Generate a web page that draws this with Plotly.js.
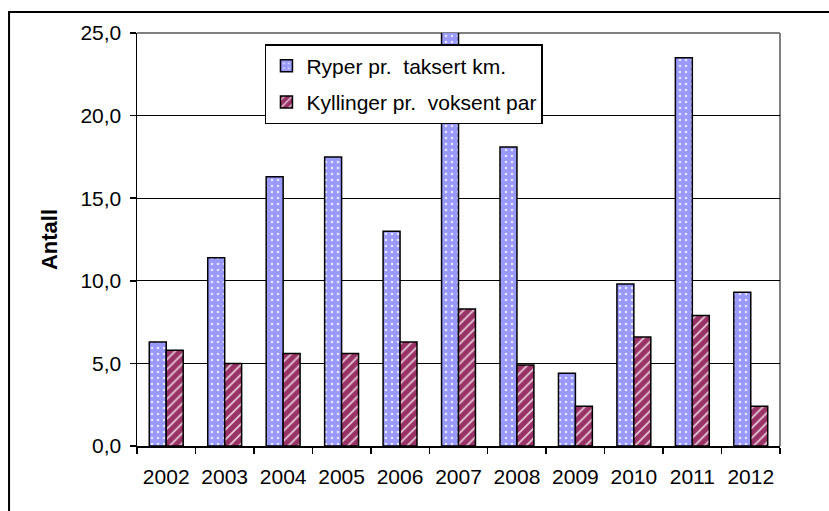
<!DOCTYPE html>
<html>
<head>
<meta charset="utf-8">
<script src="https://cdn.plot.ly/plotly-3.0.1.min.js"></script>
<style>html,body{margin:0;padding:0;background:#fff;}#chart{width:829px;height:511px;}</style>
</head>
<body>
<div id="chart"></div>
<script>
const years = ['2002','2003','2004','2005','2006','2007','2008','2009','2010','2011','2012'];
const ryperPerKm = [6.3, 11.4, 16.3, 17.5, 13.0, 25.6, 18.1, 4.4, 9.8, 23.5, 9.3];
const kyllingerPerPar = [5.8, 5.0, 5.6, 5.6, 6.3, 8.3, 4.9, 2.4, 6.6, 7.9, 2.4];
const seriesNames = ['Ryper pr.  taksert km.', 'Kyllinger pr.  voksent par'];
const yTicks = [0, 5, 10, 15, 20, 25];

const FONT = 'Liberation Sans, Arial, sans-serif';

const traces = [
  {
    type: 'bar', x: years, y: ryperPerKm, name: seriesNames[0], legendgroup: 'a',
    marker: {
      color: '#9999FF',
      line: {color: '#000', width: 1.5},
      pattern: {shape: '.', fgcolor: '#E6E6FF', bgcolor: '#9999FF', size: 6, solidity: 0.15}
    }
  },
  {
    type: 'bar', x: years, y: kyllingerPerPar, name: seriesNames[1], legendgroup: 'b',
    marker: {
      color: '#993366',
      line: {color: '#000', width: 1.5},
      pattern: {shape: '/', fgcolor: '#E8C8D8', bgcolor: '#993366', size: 7, solidity: 0.25}
    }
  }
];

const layout = {
  width: 829, height: 511,
  margin: {l: 137, r: 49, t: 33, b: 65},
  paper_bgcolor: '#fff', plot_bgcolor: '#fff',
  separators: ',.',
  font: {family: FONT, size: 21, color: '#000'},
  barmode: 'group', bargap: 0.42, bargroupgap: 0,
  showlegend: true,
  legend: {
    x: 0.199, y: 0.973, xanchor: 'left', yanchor: 'top',
    bgcolor: '#fff', bordercolor: '#000', borderwidth: 1.5,
    font: {family: FONT, size: 21, color: '#000'},
    traceorder: 'grouped', tracegroupgap: 6,
    itemwidth: 30
  },
  xaxis: {
    type: 'category',
    showline: true, linecolor: '#000', linewidth: 1.5,
    ticks: 'outside', ticklen: 6, tickcolor: '#000', tickwidth: 1.5,
    tickson: 'boundaries',
    ticklabelstandoff: 11,
    showgrid: false, zeroline: false,
    tickfont: {family: FONT, size: 21, color: '#000'}
  },
  yaxis: {
    range: [0, 25],
    tickvals: yTicks,
    tickformat: '.1f',
    showline: true, linecolor: '#000', linewidth: 1.5,
    ticks: 'outside', ticklen: 6, tickcolor: '#000', tickwidth: 1.5,
    showgrid: true, gridcolor: '#000', gridwidth: 1,
    zeroline: false,
    ticklabelstandoff: 4,
    tickfont: {family: FONT, size: 21, color: '#000'},
    title: {text: '<b>Antall</b>', font: {family: FONT, size: 22, color: '#000'}, standoff: 16}
  },
  shapes: [
    {type: 'line', xref: 'paper', yref: 'paper', x0: 0, x1: 1, y0: 1, y1: 1,
     line: {color: '#808080', width: 2}, layer: 'below'},
    {type: 'line', xref: 'paper', yref: 'paper', x0: 1, x1: 1, y0: 0, y1: 1,
     line: {color: '#808080', width: 2}, layer: 'below'},
    {type: 'rect', xref: 'paper', yref: 'paper', x0: -0.199, x1: 1.3, y0: -0.3, y1: 1.0508,
     line: {color: '#000', width: 2}, fillcolor: 'rgba(0,0,0,0)', layer: 'below'}
  ]
};

Plotly.newPlot('chart', traces, layout, {displayModeBar: false, staticPlot: true});
</script>
</body>
</html>
